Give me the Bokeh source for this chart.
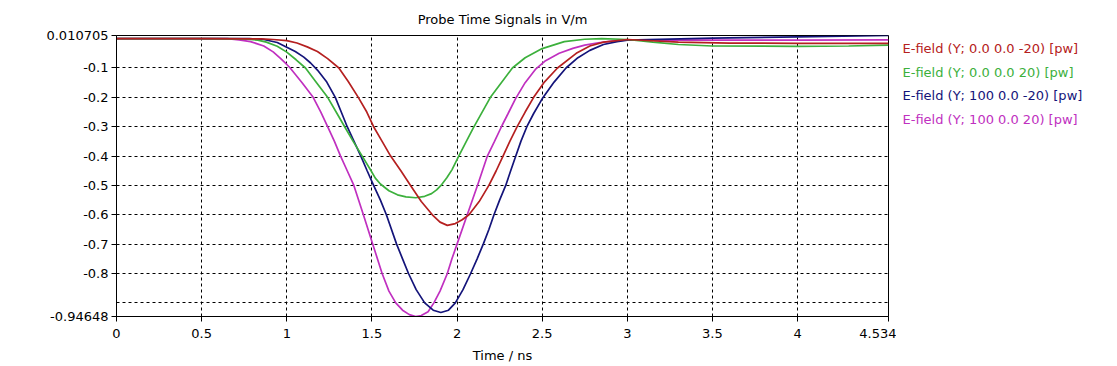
from bokeh.plotting import figure
from bokeh.models import Range1d, FixedTicker
from bokeh.layouts import row
from bokeh.core.properties import value
from bokeh.embed import file_html
from bokeh.resources import INLINE

# ---- data ----
title_text = "Probe Time Signals in V/m"
x_label = "Time / ns"
series_names = [
    "E-field (Y; 0.0 0.0 -20) [pw]",
    "E-field (Y; 0.0 0.0 20) [pw]",
    "E-field (Y; 100 0.0 -20) [pw]",
    "E-field (Y; 100 0.0 20) [pw]",
]
series_colors = ["#b52020", "#3cb03c", "#14147a", "#c030c0"]

red_t = [0, 0.5, 0.85, 0.92, 1.0, 1.06, 1.12, 1.18, 1.24, 1.306, 1.36, 1.42, 1.47, 1.51, 1.56, 1.61, 1.67, 1.727,
         1.79, 1.855, 1.9, 1.943, 1.99, 2.03, 2.07, 2.13, 2.187, 2.23, 2.27, 2.31, 2.353, 2.4, 2.45, 2.51,
         2.59, 2.7, 2.78, 2.86, 3.0, 3.3, 3.6, 4.0, 4.534]
red_v = [0.0, 0.0, -0.001, -0.003, -0.007, -0.015, -0.028, -0.044, -0.068, -0.1, -0.145, -0.2, -0.25, -0.3, -0.35, -0.4,
         -0.45, -0.5, -0.555, -0.6, -0.625, -0.636, -0.63, -0.617, -0.6, -0.555, -0.5, -0.45, -0.4, -0.35, -0.3,
         -0.25, -0.2, -0.15, -0.1, -0.05, -0.025, -0.012, -0.003, -0.012, -0.015, -0.016, -0.016]

green_t = [0, 0.5, 0.75, 0.83, 0.88, 0.944, 1.0, 1.055, 1.11, 1.175, 1.24, 1.29, 1.34, 1.39, 1.443, 1.495, 1.52,
           1.55, 1.6, 1.65, 1.7, 1.757, 1.81, 1.85, 1.88, 1.91, 1.94, 1.97, 2.01, 2.05, 2.095, 2.145, 2.196,
           2.26, 2.325, 2.4, 2.5, 2.63, 2.75, 2.85, 3.0, 3.15, 3.3, 3.5, 4.0, 4.3, 4.534]
green_v = [0.0, 0.0, -0.001, -0.005, -0.012, -0.026, -0.046, -0.072, -0.1, -0.15, -0.2, -0.25, -0.3, -0.35, -0.4, -0.45,
           -0.475, -0.495, -0.518, -0.532, -0.539, -0.542, -0.537, -0.528, -0.515, -0.497, -0.474, -0.447, -0.4,
           -0.355, -0.305, -0.253, -0.2, -0.15, -0.1, -0.065, -0.034, -0.01, -0.002, 0.0, -0.003, -0.012, -0.02,
           -0.025, -0.026, -0.025, -0.022]

blue_t = [0, 0.5, 0.78, 0.865, 0.944, 1.0, 1.05, 1.1, 1.14, 1.18, 1.235, 1.285, 1.32, 1.355, 1.395, 1.435, 1.472,
          1.51, 1.55, 1.585, 1.645, 1.68, 1.715, 1.76, 1.81, 1.86, 1.905, 1.95, 1.99, 2.035, 2.08, 2.118,
          2.154, 2.187, 2.217, 2.25, 2.286, 2.315, 2.345, 2.375, 2.41, 2.45, 2.5, 2.57, 2.64, 2.71, 2.78,
          2.86, 2.94, 3.0, 3.5, 4.0, 4.534]
blue_v = [0.0, 0.0, 0.0, -0.003, -0.013, -0.029, -0.044, -0.063, -0.083, -0.107, -0.148, -0.2, -0.25, -0.3, -0.35, -0.4,
          -0.45, -0.5, -0.55, -0.6, -0.7, -0.75, -0.8, -0.855, -0.9, -0.925, -0.933, -0.925, -0.9, -0.855, -0.8,
          -0.75, -0.7, -0.65, -0.6, -0.55, -0.5, -0.45, -0.4, -0.35, -0.3, -0.255, -0.205, -0.148, -0.1, -0.065,
          -0.04, -0.02, -0.01, -0.005, 0.002, 0.006, 0.010705]

magenta_t = [0, 0.5, 0.65, 0.72, 0.787, 0.865, 0.92, 0.963, 1.0, 1.02, 1.09, 1.155, 1.2, 1.24, 1.28, 1.316, 1.355,
             1.394, 1.45, 1.505, 1.56, 1.6, 1.64, 1.68, 1.72, 1.757, 1.79, 1.83, 1.864, 1.9, 1.943, 1.97, 2.0,
             2.06, 2.12, 2.178, 2.22, 2.265, 2.3, 2.343, 2.4, 2.46, 2.52, 2.6, 2.68, 2.75, 2.83, 2.9, 3.0, 3.5,
             4.0, 4.534]
magenta_v = [0.0, 0.0, 0.0, -0.004, -0.01, -0.025, -0.045, -0.067, -0.088, -0.1, -0.15, -0.2, -0.25, -0.3, -0.35, -0.4,
             -0.45, -0.5, -0.6, -0.7, -0.8, -0.86, -0.9, -0.925, -0.94, -0.94648, -0.943, -0.93, -0.9, -0.86, -0.8,
             -0.75, -0.7, -0.6, -0.5, -0.4, -0.35, -0.295, -0.255, -0.205, -0.15, -0.105, -0.075, -0.05, -0.033,
             -0.022, -0.014, -0.009, -0.004, -0.005, -0.005, -0.004]

x_ticks = [0, 0.5, 1, 1.5, 2, 2.5, 3, 3.5, 4, 4.534]
x_tick_labels = ["0", "0.5", "1", "1.5", "2", "2.5", "3", "3.5", "4", "4.534"]
y_ticks = [0.010705, -0.1, -0.2, -0.3, -0.4, -0.5, -0.6, -0.7, -0.8, -0.94648]
y_tick_labels = ["0.010705", "-0.1", "-0.2", "-0.3", "-0.4", "-0.5", "-0.6", "-0.7", "-0.8", "-0.94648"]
y_grid = [0.010705, -0.1, -0.2, -0.3, -0.4, -0.5, -0.6, -0.7, -0.8, -0.9, -0.94648]

FONT = "DejaVu Sans"
FS = "13px"
H = 365
FRAME_TOP = 35
FRAME_BOTTOM = 316

p = figure(width=896, height=H, output_backend="svg", toolbar_location=None,
           x_range=Range1d(0, 4.534), y_range=Range1d(-0.94648, 0.010705),
           min_border_left=116, min_border_right=8, min_border_top=FRAME_TOP,
           min_border_bottom=H - FRAME_BOTTOM)
p.background_fill_color = "white"
p.border_fill_color = "white"
p.outline_line_color = "black"
p.outline_line_width = 1

p.title.text = title_text
p.title.align = "center"
p.title.vertical_align = "top"
p.title.standoff = 14
p.title.text_font = FONT
p.title.text_font_size = FS
p.title.text_font_style = "normal"
p.title.text_color = "black"

for ax in (p.xaxis[0], p.yaxis[0]):
    ax.axis_line_color = "black"
    ax.major_tick_line_color = "black"
    ax.major_tick_out = 5
    ax.major_tick_in = 0
    ax.minor_tick_line_color = None
    ax.major_label_text_font = FONT
    ax.major_label_text_font_size = FS
    ax.major_label_text_color = "black"

p.xaxis.ticker = FixedTicker(ticks=x_ticks)
p.xaxis.major_label_overrides = {float(t): l for t, l in zip(x_ticks, x_tick_labels)}
p.xaxis.axis_label = x_label
p.xaxis.axis_label_text_font = FONT
p.xaxis.axis_label_text_font_size = FS
p.xaxis.axis_label_text_font_style = "normal"
p.xaxis.axis_label_text_color = "black"
p.xaxis.axis_label_standoff = 7
p.xaxis.major_label_standoff = 7

p.yaxis.ticker = FixedTicker(ticks=y_ticks)
p.yaxis.major_label_overrides = {float(t): l for t, l in zip(y_ticks, y_tick_labels)}
p.yaxis.major_label_standoff = 3

p.xgrid.ticker = FixedTicker(ticks=x_ticks)
p.ygrid.ticker = FixedTicker(ticks=y_grid)
for g in (p.xgrid[0], p.ygrid[0]):
    g.grid_line_color = "black"
    g.grid_line_dash = "3 3"
    g.grid_line_width = 1
    g.grid_line_alpha = 1.0

data = [(red_t, red_v), (green_t, green_v), (blue_t, blue_v), (magenta_t, magenta_v)]
for idx in [3, 2, 1, 0]:
    t, v = data[idx]
    p.line(t, v, line_color=series_colors[idx], line_width=1.7)

# legend panel: coloured texts without symbols, to the right of the plot.
# Its frame is aligned with the main frame by the row layout, so its
# y range is expressed in page pixels of that frame.
LW = 212
leg = figure(width=LW, height=H, output_backend="svg", toolbar_location=None,
             x_range=Range1d(0, LW), y_range=Range1d(FRAME_BOTTOM, FRAME_TOP),
             x_axis_location=None, y_axis_location=None,
             min_border_left=0, min_border_right=0, min_border_top=FRAME_TOP,
             min_border_bottom=H - FRAME_BOTTOM)
leg.outline_line_color = None
leg.xgrid.visible = False
leg.ygrid.visible = False
leg.background_fill_color = "white"
leg.border_fill_color = "white"
leg_y = [48, 71.5, 95, 118.5]
leg.text(x=[6] * 4, y=leg_y, text=series_names, text_color=series_colors,
         text_font=value(FONT), text_font_size=value(FS), text_baseline="middle", text_align="left")

layout = row(p, leg)
open("out.html", "w").write(file_html(layout, INLINE))
